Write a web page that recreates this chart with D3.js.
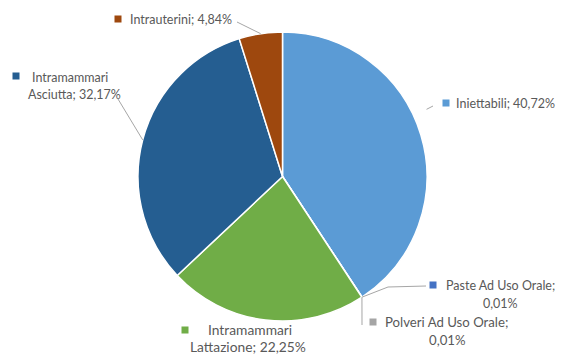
<!DOCTYPE html>
<html>
<head>
<meta charset="utf-8">
<script src="https://cdn.jsdelivr.net/npm/d3@7"></script>
<style>
  body { margin: 0; background: #fff; }
  text { font-family: Lato, "Open Sans", sans-serif; font-size: 12.5px; fill: #595959; }
</style>
</head>
<body>
<svg id="pie" width="562" height="354"></svg>
<script>
// slice data, clockwise from 12 o'clock
var categories = ["Iniettabili", "Paste Ad Uso Orale", "Polveri Ad Uso Orale",
  "Intramammari Lattazione", "Intramammari Asciutta", "Intrauterini"];
var values = [40.72, 0.01, 0.01, 22.25, 32.17, 4.84];
var valueLabels = ["40,72%", "0,01%", "0,01%", "22,25%", "32,17%", "4,84%"];
var colours = ["#5B9BD5", "#4472C4", "#A5A5A5", "#70AD47", "#255E91", "#9E480E"];

// define svg parameters
var svg = d3.select("#pie"),
    cx = 282.5, cy = 176.5, radius = 144.5;

var g = svg.append("g").attr("transform", "translate(" + cx + "," + cy + ")");

var pie = d3.pie().sort(null).value(function(d) { return d; });
var arc = d3.arc().innerRadius(0).outerRadius(radius);
var arcs = pie(values);

// draw slices
g.selectAll("path")
    .data(arcs)
  .enter().append("path")
    .attr("d", arc)
    .attr("fill", function(d, i) { return colours[i]; })
    .attr("stroke", "#fff")
    .attr("stroke-width", 1.5);

// label layout: lines of text, marker spot, leader bend points
var labels = [
  {lines: [["Iniettabili; " + valueLabels[0], 456, 108]], marker: [446, 103], leader: [[433, 106]], angle: 65, rf: 1.1},
  {lines: [["Paste Ad Uso Orale;", 446, 290], [valueLabels[1], 483, 308]], marker: [433, 285], leader: [[388, 287], [426, 286]]},
  {lines: [["Polveri Ad Uso Orale;", 385, 327], [valueLabels[2], 429, 345]], marker: [373, 322], leader: [[362, 325]], size: 13.2},
  {lines: [["Intramammari", 208, 335], ["Lattazione; " + valueLabels[3], 190, 352]], marker: [185, 330], leader: [], size: 13.8},
  {lines: [["Intramammari", 32, 82], ["Asciutta; " + valueLabels[4], 28, 99]], marker: [16, 76], leader: [[118, 99]]},
  {lines: [["Intrauterini; " + valueLabels[5], 130, 24]], marker: [118, 19], leader: [[237, 22]]}
];

// draw leader lines from slice edge to label
labels.forEach(function(l, i) {
  if (!l.leader.length) return;
  var a = l.angle !== undefined ? l.angle * Math.PI / 180 : (arcs[i].startAngle + arcs[i].endAngle) / 2;
  var r = radius * (l.rf || 1);
  var pts = [[cx + r * Math.sin(a), cy - r * Math.cos(a)]].concat(l.leader);
  svg.append("path")
    .attr("d", d3.line()(pts))
    .attr("fill", "none")
    .attr("stroke", "#A6A6A6")
    .attr("stroke-width", 1);
});

// draw labels with colour markers
labels.forEach(function(l, i) {
  svg.append("rect")
    .attr("x", l.marker[0] - 3.5)
    .attr("y", l.marker[1] - 3.5)
    .attr("width", 7)
    .attr("height", 7)
    .attr("fill", colours[i]);
  l.lines.forEach(function(t) {
    var txt = svg.append("text").attr("x", t[1]).attr("y", t[2]).text(t[0]);
    if (l.size) txt.style("font-size", l.size + "px");
  });
});
</script>
</body>
</html>
